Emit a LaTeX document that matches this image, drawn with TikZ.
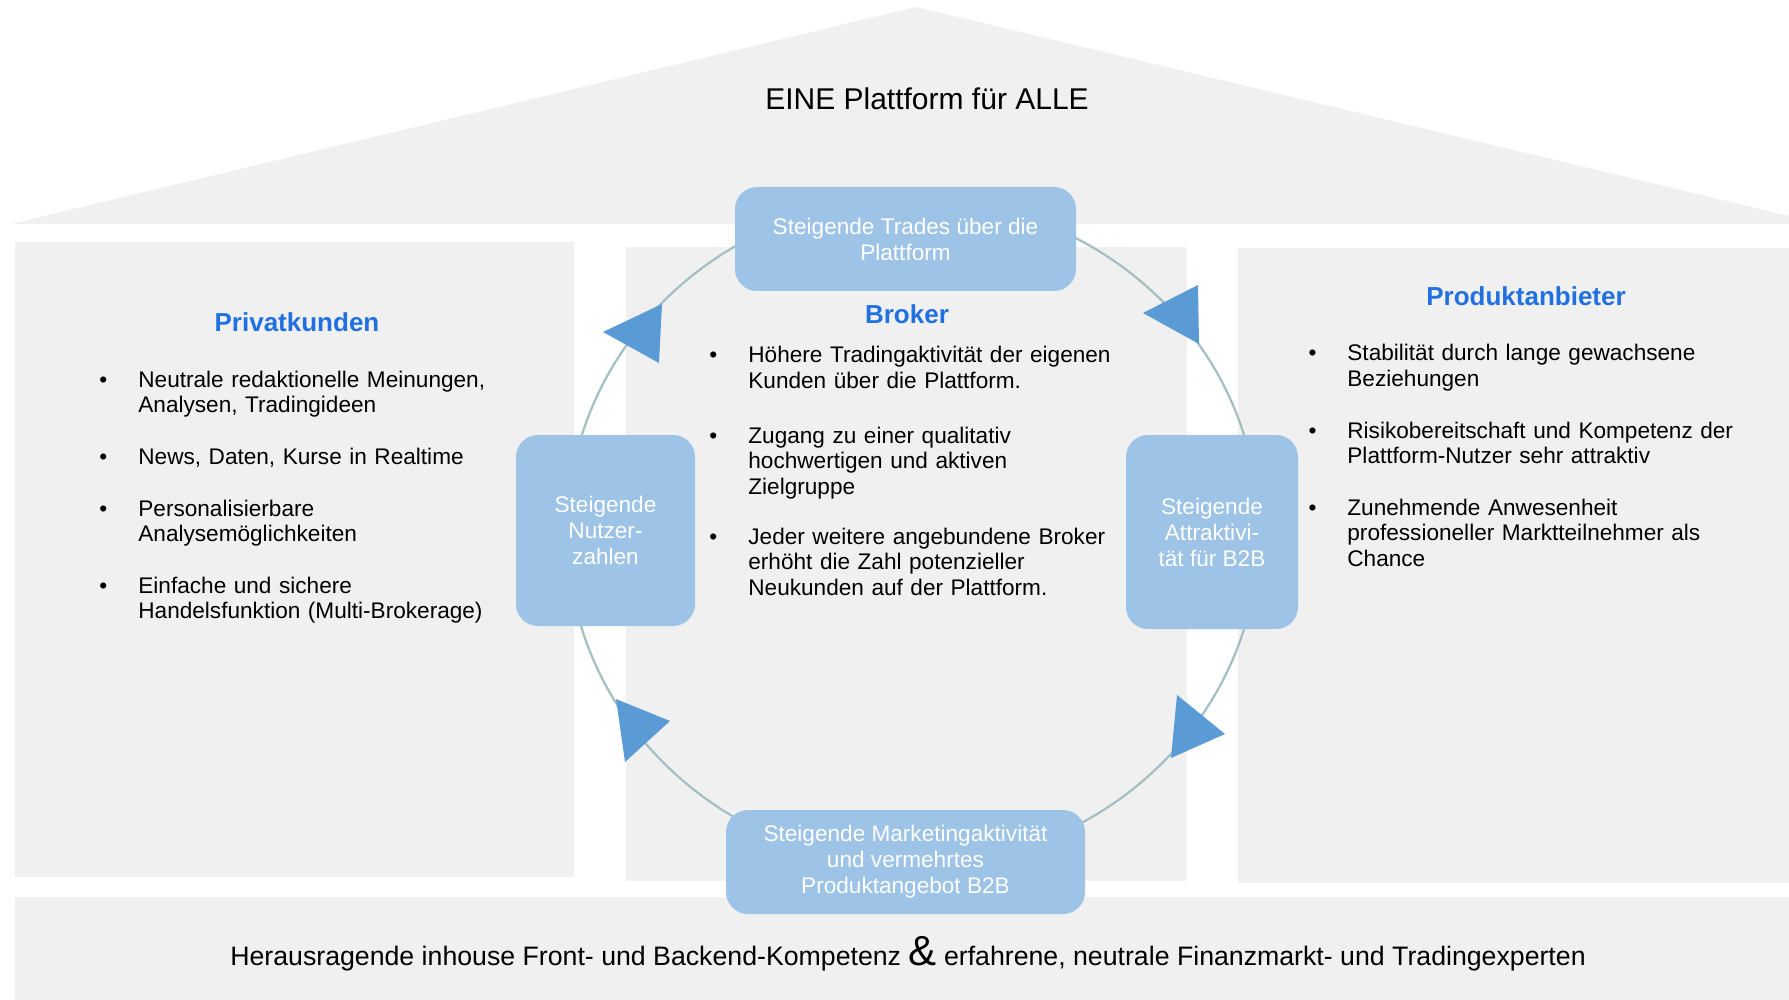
\documentclass[tikz,border=0pt]{standalone}
\usepackage{fontspec}
\setmainfont{Liberation Sans}
\definecolor{panelgray}{HTML}{F0F0F0}
\definecolor{boxblue}{HTML}{9DC3E6}
\definecolor{triblue}{HTML}{5B9BD5}
\definecolor{ringcol}{HTML}{A3BFC1}
\definecolor{headblue}{HTML}{2070E0}
\newcommand\bul{\llap{\textbullet\hspace{15.5pt}}}
\begin{document}
\begin{tikzpicture}[x=0.5pt,y=-0.5pt,
  panel/.style={fill=panelgray},
  cyclebox/.style={rectangle, rounded corners=11pt, fill=boxblue, text=white,
    align=center, inner sep=0pt, font=\fontsize{11.3}{13}\selectfont},
  heading/.style={anchor=base, inner sep=0pt, text=headblue,
    font=\fontsize{13}{15}\selectfont\bfseries},
  bitem/.style={anchor=base west, inner sep=0pt, text width=240pt, align=left,
    font=\fontsize{11.3}{12.85}\selectfont},
  ring/.style={draw=ringcol, line width=1.1pt},
  tri/.style={fill=triblue}]
\useasboundingbox (0,0) rectangle (1789,1000);
\fill[white] (0,0) rectangle (1789,1000);
% roof
\fill[panel] (11,224) -- (916,7) -- (1789,216) -- (1789,224) -- cycle;
\node[anchor=base, inner sep=0pt, font=\fontsize{15}{18}\selectfont] (title) at (927,110) {EINE Plattform für ALLE};
% panels
\fill[panel] (15,242) rectangle (574,877);
\fill[panel] (626,247) rectangle (1187,881);
\fill[panel] (1238,248) rectangle (1789,883);
\fill[panel] (15,897) rectangle (1789,1000);
% ring
\coordinate (ctr) at (913,532);
\draw[ring] (ctr) ellipse [x radius=173pt, y radius=166.5pt];
% cycle boxes
\node[cyclebox, minimum width=170.5pt, minimum height=52pt] (trades) at (905.5,239) {Steigende Trades über die\\Plattform};
\node[cyclebox, minimum width=89.5pt, minimum height=95.5pt] (nutzer) at (605.5,530.5) {\rule{0pt}{3pt}Steigende\\Nutzer-\\zahlen};
\node[cyclebox, minimum width=86pt, minimum height=97pt] (attr) at (1212,532) {Steigende\\Attraktivi-\\tät für B2B};
\node[cyclebox, minimum width=179.5pt, minimum height=52pt] (mkt) at (905.5,862) {\rule{0pt}{3pt}Steigende Marketingaktivität\\und vermehrtes\\Produktangebot B2B};
% arrow triangles
\fill[tri] (603,332) -- (662,304) -- (659,363) -- cycle;
\fill[tri] (1143,313) -- (1198,285) -- (1199,344) -- cycle;
\fill[tri] (616,699) -- (670,721) -- (625,762) -- cycle;
\fill[tri] (1177,695) -- (1225,734) -- (1171,758) -- cycle;
% headings
\node[heading] (hpriv) at (297,332) {Privatkunden};
\node[heading] (hbrok) at (907,323) {Broker};
\node[heading] (hprod) at (1526,306) {Produktanbieter};
% left items
\node[bitem] (p1) at (138,387) {\bul Neutrale redaktionelle Meinungen,\\Analysen, Tradingideen};
\node[bitem] (p2) at (138,464) {\bul News, Daten, Kurse in Realtime};
\node[bitem] (p3) at (138,516) {\bul Personalisierbare\\Analysemöglichkeiten};
\node[bitem] (p4) at (138,593) {\bul Einfache und sichere\\Handelsfunktion (Multi-Brokerage)};
% middle items
\node[bitem] (b1) at (748,363) {\bul Höhere Tradingaktivität der eigenen\\Kunden über die Plattform.};
\node[bitem] (b2) at (748,443) {\bul Zugang zu einer qualitativ\\hochwertigen und aktiven\\Zielgruppe};
\node[bitem] (b3) at (748,544) {\bul Jeder weitere angebundene Broker\\erhöht die Zahl potenzieller\\Neukunden auf der Plattform.};
% right items
\node[bitem] (r1) at (1347,361) {\bul Stabilität durch lange gewachsene\\Beziehungen};
\node[bitem] (r2) at (1347,438) {\bul Risikobereitschaft und Kompetenz der\\Plattform-Nutzer sehr attraktiv};
\node[bitem] (r3) at (1347,515) {\bul Zunehmende Anwesenheit\\professioneller Marktteilnehmer als\\Chance};
% foundation
\node[anchor=base, inner sep=0pt, font=\fontsize{13.35}{16}\selectfont] (found) at (908,965) {Herausragende inhouse Front- und Backend-Kompetenz {\fontsize{21}{21}\selectfont\&} erfahrene, neutrale Finanzmarkt- und Tradingexperten};
\end{tikzpicture}
\end{document}
